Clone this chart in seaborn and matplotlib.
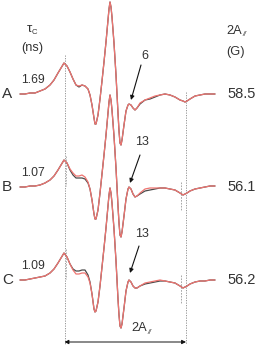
import numpy as np
import pandas as pd
import matplotlib
matplotlib.use("Agg")
import matplotlib.pyplot as plt
import seaborn as sns

# ---- data (field axis in arbitrary units, intensity in arbitrary units) ----
field = [20, 25, 30, 35, 40, 45, 50, 54, 58, 61, 64, 67, 70, 73, 76, 79,
         82, 85, 88, 90, 92, 94, 95, 96, 98, 100, 102, 104, 106, 108, 109, 110,
         111, 112, 114, 116, 118, 119, 120, 121, 122, 124, 126, 128, 129, 131, 133, 135,
         137, 140, 145, 150, 155, 160, 165, 170, 175, 180, 183, 185, 187, 190, 195, 200,
         205, 210, 215]

A_exp = [-1, -1, 0, 0, 2, 4, 8, 13, 20, 25, 30, 27, 21, 14, 8, 6,
         8, 7, 4, -2, -12, -25, -31, -31, -22, -6, 12, 31, 51, 73, 84, 91,
         86, 76, 50, 18, -20, -38, -50, -52, -47, -32, -18, -12, -11, -12, -15, -17,
         -15, -11, -7, -6, -4, -2, -1, -2, -4, -7, -8, -9, -8, -6, -3, -2,
         -1, -1, -1]
A_sim = [-1, -1, 0, 0, 2, 4, 8, 13, 20, 25, 30, 27, 21, 14, 8, 7,
         8, 7, 4, -2, -12, -25, -31, -31, -22, -6, 12, 31, 51, 73, 84, 91,
         86, 76, 50, 18, -20, -38, -50, -52, -47, -32, -18, -12, -11, -12, -15, -17,
         -15, -10, -7, -5, -3, -2, -1, -2, -4, -7, -8, -9, -8, -6, -3, -2,
         -1, -1, -1]
B_exp = [-1, -1, 0, 0, 1, 3, 6, 10, 16, 21, 26, 23, 16, 11, 8, 8,
         8, 7, 3, -3, -14, -28, -33, -33, -24, -7, 12, 31, 51, 73, 84, 91,
         86, 76, 50, 18, -20, -37, -49, -51, -46, -30, -13, -3, -1, -3, -8, -11,
         -10, -8, -5, -4, -3, -2, -2, -3, -4, -7, -9, -8, -7, -5, -3, -2,
         -1, 0, 0]
B_sim = [-1, -1, 0, 0, 1, 3, 6, 10, 16, 21, 26, 23, 17, 13, 10, 10,
         11, 9, 4, -3, -14, -28, -33, -33, -24, -7, 12, 31, 51, 73, 84, 91,
         86, 76, 50, 18, -20, -37, -49, -51, -46, -30, -13, -3, -1, -3, -8, -11,
         -10, -7, -3, -2, -2, -2, -2, -3, -4, -7, -9, -8, -7, -5, -3, -2,
         -1, 0, 0]
C_exp = [-1, -1, 0, 1, 2, 3, 6, 10, 16, 21, 26, 22, 15, 10, 8, 8,
         9, 9, 4, -3, -15, -30, -33, -32, -23, -7, 12, 31, 51, 73, 84, 91,
         86, 76, 50, 18, -20, -36, -47, -49, -45, -29, -12, -3, -1, -3, -7, -9,
         -9, -7, -5, -4, -3, -2, -2, -3, -4, -7, -9, -8, -7, -5, -3, -2,
         -2, -1, -1]
C_sim = [-1, -1, 0, 1, 2, 3, 6, 10, 16, 21, 26, 22, 15, 9, 5, 5,
         6, 6, 2, -4, -15, -30, -33, -32, -23, -7, 12, 31, 51, 73, 84, 91,
         86, 76, 50, 18, -20, -36, -47, -49, -45, -29, -12, -3, -1, -3, -7, -9,
         -9, -7, -4, -3, -2, -1, -2, -3, -4, -7, -9, -8, -7, -5, -3, -2,
         -2, -1, -1]

labels = ["A", "B", "C"]
tau_c = ["1.69", "1.07", "1.09"]
two_a = ["58.5", "56.1", "56.2"]
arrow_labels = ["6", "13", "13"]

# ---- drawing ----
sns.set_style("white")
plt.rcParams['font.family'] = ['Liberation Sans', 'DejaVu Sans']

fig = plt.figure(figsize=(2.59, 3.49), dpi=100)
ax = fig.add_axes([0, 0, 1, 1])
ax.set_xlim(0, 259)
ax.set_ylim(349, 0)
ax.axis("off")

baselines = [93, 186, 279]
exp_sets = [A_exp, B_exp, C_exp]
sim_sets = [A_sim, B_sim, C_sim]
fx = np.array(field, dtype=float)

txt = "#333333"
# guide lines
ax.plot([64.5, 64.5], [55, 344], color="#888888", lw=0.6, ls=(0, (1.5, 1.5)))
ax.plot([186, 186], [92, 344], color="#888888", lw=0.6, ls=(0, (1.5, 1.5)))
for yb in baselines[1:]:
    ax.plot([181, 181], [yb - 4, yb + 24], color="#999999", lw=0.6, ls=(0, (2, 1.5)))
    ax.plot([65.5, 65.5], [yb - 30, yb + 0], color="#aaaaaa", lw=0.6, ls=(0, (2, 1.5)))

for i in range(3):
    yb = baselines[i]
    ye = yb - np.array(exp_sets[i], dtype=float)
    ys = yb - np.array(sim_sets[i], dtype=float)
    sns.lineplot(x=fx, y=ye, ax=ax, color="#4a4a4a", lw=0.9, sort=False, estimator=None)
    sns.lineplot(x=fx, y=ys, ax=ax, color="#ee7470", lw=0.9, sort=False, estimator=None)
    ax.text(2, yb + 1, labels[i], fontsize=11, color=txt, ha="left", va="center")
    ax.text(21, yb - 13, tau_c[i], fontsize=8.8, color=txt, ha="left", va="center")
    ax.text(227, yb + 1, two_a[i], fontsize=10.5, color=txt, ha="left", va="center")

# arrows with numbers
arrow_pts = [((141, 65), (131, 100)), ((140, 155), (130, 183)), ((139, 246), (130, 273))]
text_pts = [(145, 56), (142, 142), (142, 234)]
for (p0, p1), (tx, ty), s in zip(arrow_pts, text_pts, arrow_labels):
    ax.annotate("", xy=p1, xytext=p0,
                arrowprops=dict(arrowstyle="-|>", color="#111111", lw=0.8,
                                mutation_scale=6, shrinkA=0, shrinkB=0))
    ax.text(tx, ty, s, fontsize=9, color=txt, ha="center", va="center")

# header
ax.text(29, 29, "τ", fontsize=9.5, color=txt, ha="center", va="center")
ax.text(34, 32, "C", fontsize=5.5, color=txt, ha="center", va="center")
ax.text(32, 48, "(ns)", fontsize=9.2, color=txt, ha="center", va="center")
ax.text(226, 31, "2A", fontsize=9.2, color=txt, ha="left", va="center")
ax.text(242, 35, "//", fontsize=5, color=txt, ha="left", va="center", style="italic")
ax.text(236, 52, "(G)", fontsize=9.2, color=txt, ha="center", va="center")

# bottom double arrow
ax.annotate("", xy=(64.5, 342), xytext=(186, 342),
            arrowprops=dict(arrowstyle="<|-|>", color="#111111", lw=0.7,
                            mutation_scale=6, shrinkA=0, shrinkB=0))
ax.text(131, 328, "2A", fontsize=9.2, color=txt, ha="left", va="center")
ax.text(147, 332, "//", fontsize=5, color=txt, ha="left", va="center", style="italic")

fig.savefig("out.png", dpi=100)
